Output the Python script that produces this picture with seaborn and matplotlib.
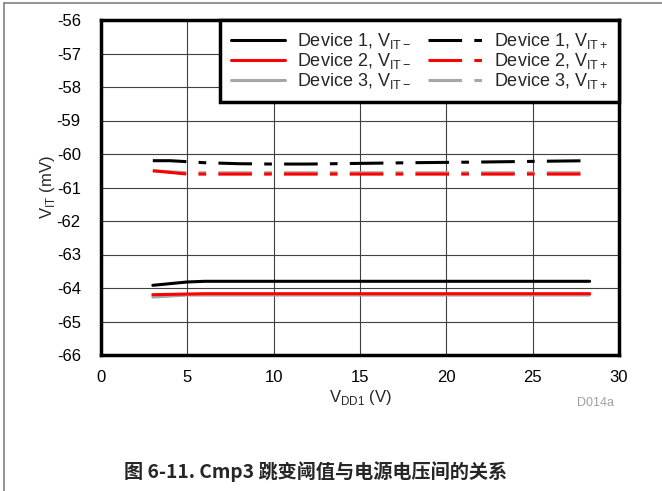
import matplotlib
matplotlib.use("Agg")
import matplotlib.pyplot as plt
import numpy as np
import pandas as pd
import seaborn as sns

# supply voltage (V)
vdd = [3, 4, 5, 6, 8, 10, 12, 15, 18, 20, 22, 25, 28.3]

# falling threshold V_IT- (mV)
d1_minus = [-63.92, -63.87, -63.82, -63.80, -63.80, -63.80, -63.80, -63.80, -63.80, -63.80, -63.80, -63.80, -63.80]
d2_minus = [-64.20, -64.19, -64.18, -64.17, -64.17, -64.17, -64.17, -64.17, -64.17, -64.17, -64.17, -64.17, -64.17]
d3_minus = [-64.27, -64.24, -64.21, -64.21, -64.21, -64.21, -64.21, -64.21, -64.21, -64.21, -64.21, -64.21, -64.21]

# rising threshold V_IT+ (mV)
d1_plus = [-60.20, -60.20, -60.23, -60.26, -60.29, -60.30, -60.30, -60.28, -60.26, -60.25, -60.24, -60.22, -60.20]
d2_plus = [-60.50, -60.55, -60.60, -60.60, -60.60, -60.60, -60.60, -60.60, -60.60, -60.60, -60.60, -60.60, -60.60]
d3_plus = [-60.50, -60.53, -60.56, -60.56, -60.56, -60.56, -60.56, -60.56, -60.56, -60.56, -60.56, -60.56, -60.56]

x_ticks = [0, 5, 10, 15, 20, 25, 30]
y_ticks = [-66, -65, -64, -63, -62, -61, -60, -59, -58, -57, -56]

sns.set_theme(style="white")
plt.rcParams['font.family'] = ['Liberation Sans', 'Noto Sans CJK SC', 'DejaVu Sans']
plt.rcParams['mathtext.fontset'] = 'custom'
plt.rcParams['mathtext.rm'] = 'Liberation Sans'

fig = plt.figure(figsize=(6.62, 4.91), dpi=100)
ax = fig.add_axes([101 / 662, 1 - 355 / 491, 518 / 662, 335 / 491])

dashdot = (0, (11, 4, 2.5, 4))
series = [
    (d1_minus, "black", "-", "Device 1, V$_{\\mathregular{IT\u2212}}$"),
    (d2_minus, "#FF0000", "-", "Device 2, V$_{\\mathregular{IT\u2212}}$"),
    (d3_minus, "#A6A6A6", "-", "Device 3, V$_{\\mathregular{IT\u2212}}$"),
    (d1_plus, "black", dashdot, "Device 1, V$_{\\mathregular{IT+}}$"),
    (d2_plus, "#FF0000", dashdot, "Device 2, V$_{\\mathregular{IT+}}$"),
    (d3_plus, "#A6A6A6", dashdot, "Device 3, V$_{\\mathregular{IT+}}$"),
]
# draw grey first so black/red sit on top, like the original
draw_order = [2, 5, 1, 4, 0, 3]
lines = {}
for i in draw_order:
    vals, col, ls, lab = series[i]
    df = pd.DataFrame({"vdd": vdd, "vit": vals})
    sns.lineplot(data=df, x="vdd", y="vit", color=col, linestyle=ls,
                 linewidth=2.2, ax=ax, label=lab, legend=False)
    lines[i] = ax.get_lines()[-1]

ax.set_xlim(0, 30)
ax.set_ylim(-66, -56)
ax.set_xticks(x_ticks)
ax.set_yticks(y_ticks)
ax.set_xticklabels([str(t) for t in x_ticks])
ax.set_yticklabels([str(t) for t in y_ticks])
ax.tick_params(axis="both", labelsize=12, length=0, colors="black")
ax.tick_params(axis="x", pad=11)
ax.tick_params(axis="y", pad=14.5)
ax.grid(True, color="#404040", linewidth=0.8)
for sp in ax.spines.values():
    sp.set_visible(True)
    sp.set_color("black")
    sp.set_linewidth(2.5)

ax.set_xlabel("V$_{\\mathregular{DD1}}$ (V)", fontsize=12, labelpad=2)
ax.set_ylabel("V$_{\\mathregular{IT}}$ (mV)", fontsize=12, labelpad=0)

leg = ax.legend([lines[i] for i in range(6)], [s[3] for s in series],
                ncol=2, loc="upper right", fontsize=13, frameon=True,
                fancybox=False, borderaxespad=0, handlelength=3.0,
                labelspacing=0.0, columnspacing=0.9, handletextpad=0.65,
                borderpad=0.6)
leg.get_frame().set_edgecolor("black")
leg.get_frame().set_linewidth(2.5)
leg.get_frame().set_alpha(1)

fig.text(596 / 662, 1 - 403 / 491, "D014a", color="#A0A0A0", fontsize=9,
         ha="center", va="center")
fig.text(316 / 662, 1 - 472 / 491, "图 6-11. Cmp3 跳变阈值与电源电压间的关系",
         fontsize=13.8, fontweight="bold", ha="center", va="center",
         family=['Noto Sans CJK SC', 'DejaVu Sans'])

# thin frame on the left and top of the figure
fig.add_artist(plt.Line2D([3.5 / 662, 3.5 / 662], [0, 1 - 3 / 491],
                          color="#808080", linewidth=1.2))
fig.add_artist(plt.Line2D([3.5 / 662, 1], [1 - 3 / 491, 1 - 3 / 491],
                          color="#808080", linewidth=1.2))

fig.savefig("out.png", dpi=100)
